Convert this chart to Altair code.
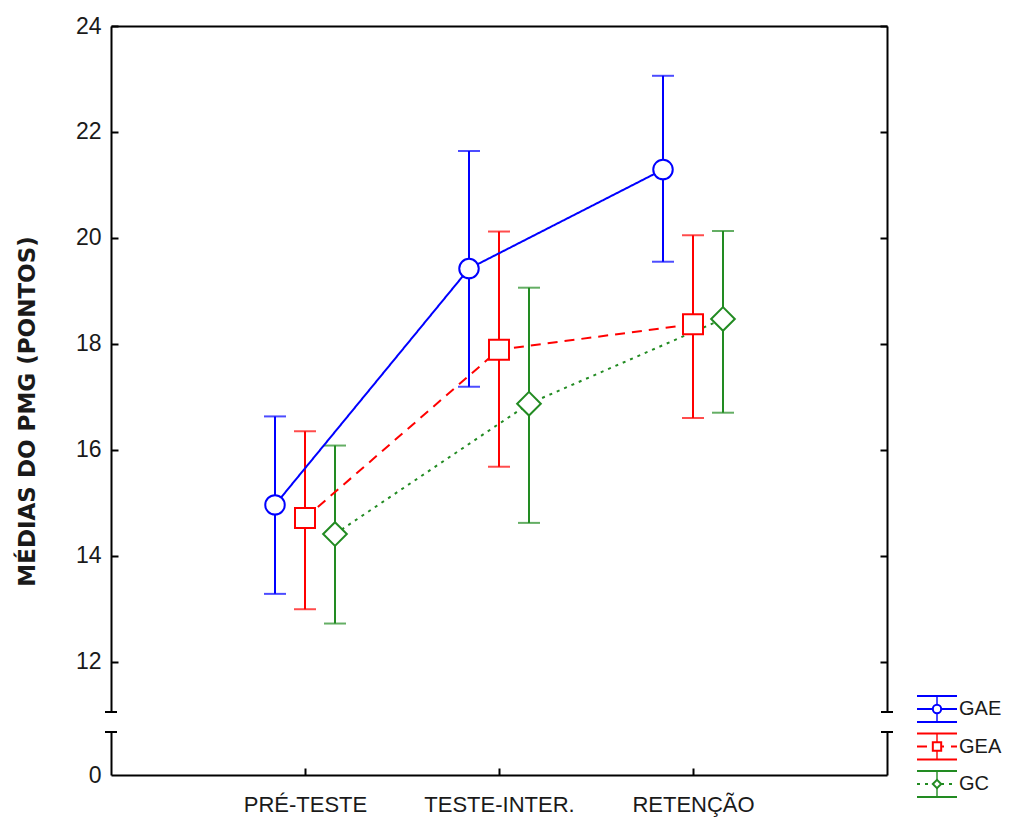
import altair as alt
import pandas as pd

# ---------------- data ----------------
categories = ["PRÉ-TESTE", "TESTE-INTER.", "RETENÇÃO"]
groups = ["GAE", "GEA", "GC"]

gae_mean = [14.96, 19.42, 21.29]
gae_low = [13.28, 17.19, 19.55]
gae_high = [16.63, 21.64, 23.06]

gea_mean = [14.71, 17.89, 18.37]
gea_low = [12.99, 15.68, 16.60]
gea_high = [16.35, 20.12, 20.05]

gc_mean = [14.41, 16.87, 18.47]
gc_low = [12.72, 14.62, 16.70]
gc_high = [16.08, 19.06, 20.13]

y_ticks = [12, 14, 16, 18, 20, 22, 24]
y_title = "MÉDIAS DO PMG (PONTOS)"

rows = []
for g, ms, ls, hs in zip(groups,
                         [gae_mean, gea_mean, gc_mean],
                         [gae_low, gea_low, gc_low],
                         [gae_high, gea_high, gc_high]):
    for c, m, lo, hi in zip(categories, ms, ls, hs):
        rows.append({"group": g, "phase": c, "mean": m, "low": lo, "high": hi})
df = pd.DataFrame(rows)
leg_df = pd.DataFrame({"group": groups})
cat_df = pd.DataFrame({"phase": categories})
deco_df = pd.DataFrame({"k": [0]})

# ---------------- styling ----------------
BLACK = "#000000"
TXT = "#1a1a1a"
SANS = "Liberation Sans, Arial, Helvetica, sans-serif"
W, HT, HB = 776, 686, 43

color_sc = alt.Scale(domain=groups, range=["#0000FF", "#FF0000", "#228B22"])
dash_sc = alt.Scale(domain=groups, range=[[1, 0], [10, 7], [3, 5]])
shape_sc = alt.Scale(domain=groups, range=["circle", "square", "diamond"])
x_sc = alt.Scale(type="point", domain=categories, padding=1)
off_sc = alt.Scale(type="point", domain=groups, range=[-30, 30], padding=0)
yt_sc = alt.Scale(domain=[11.05, 24], nice=False, zero=False)
yb_sc = alt.Scale(domain=[0, 1], nice=False, zero=False)

C = alt.Color("group:N", scale=color_sc, legend=None)
S = alt.Stroke("group:N", scale=color_sc, legend=None)
XO = alt.XOffset("group:N", scale=off_sc)

x_top_axis = alt.Axis(orient="top", labels=False, ticks=False, domain=True,
                      domainColor=BLACK, domainWidth=2, grid=False, title=None)
X_top = alt.X("phase:N", scale=x_sc, axis=x_top_axis)

left_main = alt.Axis(orient="left", values=y_ticks, ticks=False, domain=True,
                     domainColor=BLACK, domainWidth=2, grid=False,
                     labelFont=SANS, labelFontSize=23, labelColor=TXT, labelPadding=10,
                     title=y_title, titleFont="DejaVu Sans", titleFontSize=23,
                     titleFontWeight="bold", titleColor=TXT,
                     titleX=-72, titleY=385, titleAngle=270, titleBaseline="bottom",
                     titleAlign="center")
left_ticks = alt.Axis(orient="left", offset=-7, values=y_ticks, ticks=True, tickSize=7,
                      tickWidth=2, tickColor=BLACK, domain=False, labels=False,
                      grid=False, title=None)
right_dom = alt.Axis(orient="right", values=y_ticks, ticks=False, domain=True,
                     domainColor=BLACK, domainWidth=2, labels=False, grid=False, title=None)
right_ticks = alt.Axis(orient="right", offset=-7, values=y_ticks, ticks=True, tickSize=7,
                       tickWidth=2, tickColor=BLACK, domain=False, labels=False,
                       grid=False, title=None)

base = alt.Chart(df)

err = base.mark_rule(strokeWidth=2).encode(
    x=X_top, xOffset=XO,
    y=alt.Y("low:Q", scale=yt_sc, axis=None), y2="high:Q", color=C)
cap_lo = base.mark_tick(orient="horizontal", size=22, thickness=2).encode(
    x=X_top, xOffset=XO, y=alt.Y("low:Q", scale=yt_sc, axis=None), color=C)
cap_hi = base.mark_tick(orient="horizontal", size=22, thickness=2).encode(
    x=X_top, xOffset=XO, y=alt.Y("high:Q", scale=yt_sc, axis=None), color=C)
lines = base.mark_line(strokeWidth=2).encode(
    x=X_top, xOffset=XO, y=alt.Y("mean:Q", scale=yt_sc, axis=None), color=C,
    strokeDash=alt.StrokeDash("group:N", scale=dash_sc, legend=None))

marker = {"GAE": ("circle", 380), "GEA": ("square", 400), "GC": ("diamond", 560)}
point_layers = []
for i, g in enumerate(groups):
    shp, sz = marker[g]
    point_layers.append(
        base.transform_filter(alt.datum.group == g)
        .mark_point(filled=True, fill="white", strokeWidth=2, opacity=1, shape=shp, size=sz)
        .encode(x=X_top, xOffset=XO,
                y=alt.Y("mean:Q", scale=yt_sc, axis=left_main if i == 0 else None),
                stroke=S)
    )


def axis_layer(ax):
    return base.mark_point(opacity=0).encode(
        x=X_top, y=alt.Y("mean:Q", scale=yt_sc, axis=ax))


def cap(x0, x1, y):
    return alt.Chart(deco_df).mark_rule(color=BLACK, strokeWidth=2).encode(
        x=alt.value(x0), x2=alt.value(x1), y=alt.value(y))


top = alt.layer(
    err, cap_lo, cap_hi, lines, *point_layers,
    axis_layer(left_ticks), axis_layer(right_dom), axis_layer(right_ticks),
    cap(-6, 6, HT), cap(W - 6, W + 6, HT),
).resolve_axis(y="independent").properties(width=W, height=HT)

# ---------------- bottom (broken) segment ----------------
cat_base = alt.Chart(cat_df).transform_calculate(v="0")
x_bot_main = alt.Axis(orient="bottom", ticks=False, domain=True, domainColor=BLACK,
                      domainWidth=2, grid=False, labelFont=SANS, labelFontSize=22,
                      labelColor=TXT, labelPadding=19, title=None, labelAngle=0)
x_bot_ticks = alt.Axis(orient="bottom", offset=-7, ticks=True, tickSize=7, tickWidth=2,
                       tickColor=BLACK, domain=False, labels=False, grid=False, title=None)
yb_left = alt.Axis(orient="left", values=[0], ticks=False, domain=True, domainColor=BLACK,
                   domainWidth=2, grid=False, labelFont=SANS, labelFontSize=23,
                   labelColor=TXT, labelPadding=10, title=None)
yb_right = alt.Axis(orient="right", values=[0], ticks=False, domain=True, domainColor=BLACK,
                    domainWidth=2, labels=False, grid=False, title=None)

b1 = cat_base.mark_point(opacity=0).encode(
    x=alt.X("phase:N", scale=x_sc, axis=x_bot_main),
    y=alt.Y("v:Q", scale=yb_sc, axis=yb_left))
b2 = cat_base.mark_point(opacity=0).encode(
    x=alt.X("phase:N", scale=x_sc, axis=x_bot_ticks),
    y=alt.Y("v:Q", scale=yb_sc, axis=yb_right))

# legend drawn from the group list
leg_y = alt.Y("group:N", scale=alt.Scale(type="point", domain=groups, range=[-23, 52], padding=0),
              axis=None)
LX0, LX1, LXC = 806, 846, 826
lb = alt.Chart(leg_df)
leg_cap_t = lb.mark_rule(strokeWidth=2, yOffset=-13).encode(
    x=alt.value(LX0), x2=alt.value(LX1), y=leg_y, color=C)
leg_cap_b = lb.mark_rule(strokeWidth=2, yOffset=13).encode(
    x=alt.value(LX0), x2=alt.value(LX1), y=leg_y, color=C)
leg_vert = lb.mark_tick(orient="vertical", size=26, thickness=2).encode(
    x=alt.value(LXC), y=leg_y, color=C)
leg_mid = lb.mark_rule(strokeWidth=2).encode(
    x=alt.value(LX0), x2=alt.value(LX1), y=leg_y, color=C,
    strokeDash=alt.StrokeDash("group:N", scale=dash_sc, legend=None))
leg_pt = lb.mark_point(filled=True, fill="white", strokeWidth=2, size=70, opacity=1).encode(
    x=alt.value(LXC), y=leg_y, stroke=S,
    shape=alt.Shape("group:N", scale=shape_sc, legend=None))
leg_txt = lb.mark_text(align="left", baseline="middle", font=SANS, fontSize=20,
                       color=TXT).encode(x=alt.value(LX1 + 2), y=leg_y, text="group:N")

bottom = alt.layer(
    b1, b2, cap(-6, 6, 0), cap(W - 6, W + 6, 0),
    leg_cap_t, leg_cap_b, leg_vert, leg_mid, leg_pt, leg_txt,
).resolve_axis(x="independent", y="independent").resolve_scale(y="independent").properties(
    width=W, height=HB)

chart = alt.vconcat(top, bottom, spacing=20, bounds="flush").properties(
    background="white",
    padding={"left": 16, "top": 15, "right": 5, "bottom": 5},
).configure_view(stroke=None)

chart.save("out.html", embed_options={"renderer": "svg", "actions": False})
